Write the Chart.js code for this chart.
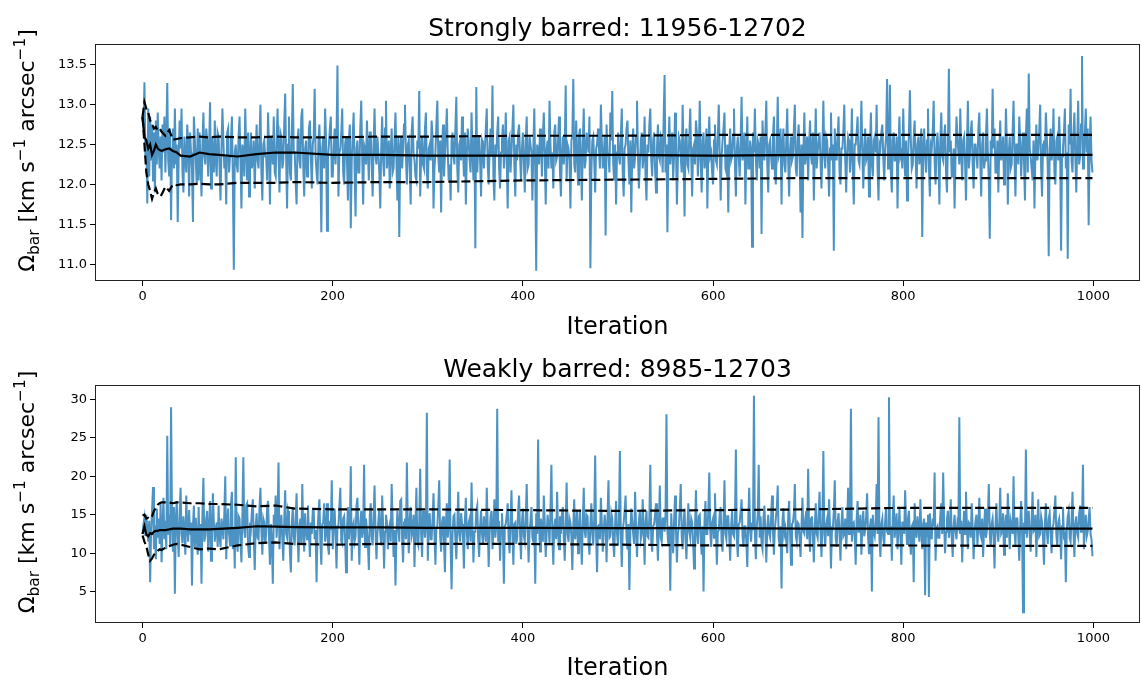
<!DOCTYPE html>
<html>
<head>
<meta charset="utf-8">
<script src="https://cdn.jsdelivr.net/npm/chart.js@4.4.1/dist/chart.umd.min.js"></script>
<style>
  html, body { margin: 0; padding: 0; background: #fff; }
  canvas { position: absolute; left: 0; }
  #strong { top: 0; }
  #weak { top: 341px; }
</style>
</head>
<body>
<canvas id="strong" width="1141" height="341"></canvas>
<canvas id="weak" width="1141" height="341"></canvas>
<script>
//===================================== Data (one value per iteration)
var xTicks = [0, 200, 400, 600, 800, 1000];

var strongTitle = 'Strongly barred: 11956-12702';
var strongYTicks = [11.0, 11.5, 12.0, 12.5, 13.0, 13.5];
var strongTrace = [
  12.85, 12.70, 13.28, 12.35, 12.55, 11.76, 12.95, 12.10, 12.85, 12.30, 12.75, 12.05, 12.65, 11.90, 12.80, 12.25, 12.90, 12.45, 12.20, 12.60,
  12.05, 12.75, 12.40, 12.85, 12.15, 12.60, 13.27, 12.30, 12.10, 12.70, 11.55, 12.45, 12.70, 12.20, 12.95, 12.25, 12.50, 11.53, 12.35, 12.80,
  12.45, 12.95, 12.15, 11.90, 12.60, 12.35, 12.15, 12.75, 12.50, 11.85, 12.65, 12.40, 12.20, 11.53, 12.85, 12.55, 12.30, 12.00, 12.70, 12.05,
  12.65, 12.25, 11.85, 12.50, 12.90, 12.35, 12.25, 12.70, 12.55, 12.10, 12.45, 13.03, 11.95, 12.60, 12.40, 12.15, 12.80, 12.30, 12.10, 12.65,
  12.60, 12.20, 11.80, 12.45, 12.95, 12.55, 12.20, 12.35, 11.75, 12.65, 12.70, 12.15, 12.35, 12.55, 12.85, 12.05, 10.93, 12.40, 12.50, 12.25,
  12.15, 12.60, 12.85, 12.30, 11.70, 12.50, 12.40, 12.10, 12.95, 12.45, 12.05, 12.65, 11.85, 12.35, 12.65, 12.20, 12.30, 12.55, 11.95, 12.40,
  12.75, 12.30, 12.20, 12.60, 13.00, 12.15, 11.80, 12.50, 12.55, 12.35, 12.35, 12.05, 12.90, 12.45, 11.75, 12.60, 12.45, 12.25, 12.85, 12.15,
  12.10, 12.55, 12.95, 12.40, 11.90, 12.65, 12.60, 12.20, 12.30, 12.75, 13.14, 12.35, 11.70, 12.50, 12.85, 12.15, 12.05, 12.60, 13.26, 12.40,
  12.40, 12.05, 11.75, 12.55, 12.70, 12.30, 12.20, 12.85, 12.95, 12.25, 11.85, 12.45, 12.55, 12.10, 12.15, 12.70, 12.80, 12.35, 11.95, 12.50,
  12.60, 13.20, 12.35, 12.15, 12.00, 12.55, 12.75, 12.30, 11.40, 12.45, 12.60, 12.20, 12.95, 12.55, 11.42, 12.35, 12.50, 12.70, 12.85, 12.10,
  12.10, 12.45, 12.70, 12.25, 12.60, 13.49, 11.85, 12.40, 12.45, 12.65, 12.95, 12.15, 12.00, 12.50, 12.60, 12.30, 11.80, 12.55, 12.75, 11.45,
  12.30, 12.60, 12.90, 12.20, 11.60, 12.45, 12.55, 12.15, 12.15, 12.70, 13.05, 12.35, 11.75, 12.50, 12.45, 12.25, 12.80, 12.40, 12.05, 12.65,
  12.65, 12.25, 11.85, 12.50, 12.95, 12.35, 12.25, 12.60, 12.40, 12.15, 11.70, 12.45, 12.85, 12.30, 12.10, 12.70, 13.05, 12.20, 12.35, 12.55,
  11.95, 12.40, 12.70, 12.15, 12.20, 12.55, 12.90, 12.30, 11.80, 12.60, 11.34, 12.45, 12.60, 12.20, 12.45, 12.75, 13.00, 12.35, 12.00, 12.50,
  12.55, 12.20, 11.75, 12.65, 12.85, 12.40, 12.30, 12.10, 12.05, 12.55, 12.45, 13.17, 11.85, 12.35, 12.60, 12.25, 12.20, 12.70, 12.90, 12.15,
  11.95, 12.45, 12.50, 12.30, 12.80, 12.60, 11.70, 12.20, 12.40, 12.75, 13.05, 12.35, 12.15, 12.55, 11.65, 12.45, 12.75, 12.10, 12.35, 12.60,
  12.95, 12.40, 12.05, 12.25, 11.80, 12.55, 12.65, 12.35, 12.25, 12.70, 13.10, 12.20, 11.90, 12.50, 12.55, 12.30, 12.85, 12.45, 12.10, 12.65,
  11.75, 12.35, 12.70, 12.55, 12.30, 12.15, 12.90, 12.40, 12.05, 12.60, 11.20, 13.22, 12.15, 12.45, 12.60, 12.30, 11.85, 12.55, 12.50, 12.20,
  12.45, 12.70, 12.95, 12.25, 12.00, 12.45, 12.70, 12.35, 13.24, 12.10, 11.80, 12.50, 12.35, 12.65, 12.85, 12.20, 11.95, 12.40, 12.55, 12.75,
  12.20, 12.45, 12.90, 12.30, 11.70, 12.55, 12.60, 12.15, 12.40, 12.70, 13.00, 12.25, 11.85, 12.50, 12.30, 12.65, 12.75, 12.35, 12.05, 12.45,
  12.65, 12.30, 11.90, 12.55, 12.85, 12.20, 12.25, 12.60, 12.50, 12.40, 11.80, 12.45, 12.95, 12.15, 10.92, 12.50, 12.40, 12.25, 12.70, 12.55,
  12.10, 12.60, 12.90, 12.35, 11.75, 12.45, 12.55, 12.20, 13.05, 12.50, 12.20, 12.40, 11.95, 12.65, 12.75, 12.30, 12.35, 12.55, 12.85, 12.15,
  11.85, 12.40, 12.60, 12.25, 12.45, 13.24, 12.05, 12.50, 12.45, 12.30, 11.70, 12.55, 12.60, 13.32, 12.25, 12.15, 12.80, 12.45, 12.00, 12.60,
  12.70, 12.35, 11.80, 12.50, 12.95, 12.20, 12.30, 12.65, 12.55, 12.40, 12.85, 10.95, 12.15, 12.55, 12.60, 12.30, 11.90, 12.45, 12.50, 12.70,
  12.45, 12.20, 13.00, 12.55, 12.20, 12.35, 12.60, 11.36, 12.75, 12.40, 12.35, 12.15, 12.90, 12.55, 13.17, 12.25, 12.05, 12.50, 11.75, 12.40,
  12.65, 12.35, 12.25, 12.60, 12.95, 12.15, 11.85, 12.45, 12.50, 12.70, 12.80, 12.30, 12.00, 12.55, 11.65, 12.40, 12.70, 12.20, 12.35, 12.60,
  13.05, 12.40, 11.95, 12.25, 12.55, 12.65, 12.20, 12.35, 12.85, 12.10, 11.80, 12.50, 12.40, 12.75, 12.95, 12.30, 12.10, 12.55, 12.65, 12.20,
  11.90, 12.45, 12.75, 12.35, 12.30, 12.60, 12.55, 12.15, 12.80, 13.37, 12.15, 12.50, 11.40, 12.40, 12.85, 12.25, 12.45, 12.65, 12.05, 12.35,
  12.90, 12.45, 11.75, 12.30, 12.60, 12.55, 12.35, 12.15, 13.00, 12.40, 11.60, 12.55, 12.70, 12.25, 12.20, 12.60, 12.95, 12.35, 11.85, 12.45,
  12.50, 12.25, 12.80, 12.65, 12.10, 12.40, 13.05, 12.30, 11.90, 12.55, 12.65, 12.20, 12.30, 12.70, 11.70, 12.45, 12.85, 12.35, 12.40, 12.15,
  12.00, 12.55, 12.75, 12.30, 12.25, 12.60, 13.00, 12.40, 11.80, 12.35, 12.55, 12.70, 12.90, 12.20, 12.15, 12.50, 11.65, 12.45, 12.70, 12.30,
  12.35, 12.60, 12.95, 12.25, 11.85, 12.45, 12.60, 12.35, 12.10, 12.55, 13.10, 12.30, 12.45, 12.65, 11.75, 12.40, 12.85, 12.20, 12.20, 12.55,
  12.45, 11.22, 12.65, 12.40, 12.95, 12.30, 12.05, 12.55, 12.50, 12.20, 12.60, 11.38, 12.80, 12.45, 12.30, 12.65, 13.05, 12.25, 11.90, 12.50,
  12.55, 12.35, 12.20, 12.60, 12.85, 12.15, 12.00, 12.45, 13.10, 12.35, 12.40, 12.70, 11.75, 12.50, 12.70, 12.25, 12.15, 12.55, 12.95, 12.30,
  11.85, 12.45, 12.60, 12.30, 12.35, 12.70, 13.00, 12.20, 12.10, 12.55, 12.75, 12.35, 11.65, 12.50, 11.33, 12.40, 12.90, 12.25, 12.45, 12.60,
  12.05, 12.50, 12.80, 12.35, 12.25, 12.65, 11.80, 12.40, 12.95, 12.20, 12.40, 12.55, 12.65, 12.30, 11.95, 12.45, 13.05, 12.35, 12.20, 12.60,
  12.55, 12.25, 11.85, 12.45, 12.90, 12.30, 12.50, 11.17, 12.70, 12.40, 12.30, 12.60, 12.85, 12.15, 12.00, 12.45, 12.45, 12.65, 13.00, 12.30,
  11.90, 12.40, 12.60, 12.55, 12.15, 12.35, 12.95, 12.20, 11.75, 12.50, 12.50, 12.65, 12.85, 12.30, 12.25, 12.55, 13.05, 12.40, 11.95, 12.45,
  12.70, 12.30, 12.35, 12.60, 11.85, 12.45, 12.90, 12.25, 12.10, 12.55, 12.60, 12.40, 13.00, 12.20, 11.80, 12.50, 12.45, 12.65, 12.75, 12.35,
  12.05, 12.45, 12.60, 13.32, 12.20, 12.40, 13.25, 12.15, 11.90, 12.55, 12.65, 12.30, 12.30, 12.60, 11.70, 12.45, 12.85, 12.35, 12.40, 12.20,
  12.95, 12.40, 12.10, 12.55, 11.80, 12.30, 12.65, 13.18, 12.55, 12.20, 12.25, 12.60, 12.80, 12.35, 11.95, 12.50, 12.60, 12.25, 12.45, 12.70,
  11.34, 12.45, 12.70, 12.35, 12.15, 12.55, 12.95, 12.20, 11.85, 12.50, 12.45, 12.65, 13.05, 12.30, 12.00, 12.45, 12.65, 12.40, 11.75, 12.55,
  12.90, 12.35, 12.30, 12.60, 12.75, 12.15, 11.90, 12.50, 13.45, 12.40, 12.55, 12.10, 12.10, 12.45, 11.70, 12.35, 12.85, 12.60, 12.40, 12.25,
  12.95, 12.40, 12.05, 12.55, 12.60, 12.30, 11.80, 12.45, 13.05, 12.20, 12.35, 12.65, 12.80, 12.25, 11.95, 12.50, 12.50, 12.35, 12.20, 12.70,
  12.90, 12.30, 11.85, 12.50, 12.65, 12.20, 12.30, 12.60, 12.95, 12.40, 12.05, 11.32, 12.55, 12.35, 13.20, 12.45, 12.70, 12.15, 12.15, 12.55,
  11.90, 12.45, 12.80, 12.30, 12.40, 12.60, 12.00, 12.25, 12.95, 12.50, 11.75, 12.40, 12.60, 12.20, 12.25, 12.65, 13.05, 12.35, 11.85, 12.50,
  12.50, 12.25, 12.85, 12.55, 12.10, 12.40, 12.65, 12.30, 11.80, 12.60, 12.95, 12.15, 13.39, 12.45, 12.35, 12.20, 12.05, 12.55, 11.70, 12.40,
  12.75, 12.30, 12.40, 12.65, 13.00, 12.20, 11.85, 12.50, 12.55, 12.35, 12.90, 12.60, 12.20, 11.10, 12.45, 12.70, 12.30, 12.40, 12.95, 12.15,
  12.00, 12.55, 12.60, 12.30, 12.85, 12.45, 11.17, 12.35, 12.45, 12.65, 12.95, 12.20, 12.40, 11.07, 12.75, 12.50, 13.20, 12.30, 12.15, 12.60,
  12.90, 12.35, 11.90, 12.55, 13.05, 12.25, 12.35, 12.75, 13.61, 12.20, 12.20, 12.65, 12.95, 12.40, 12.70, 11.49, 12.45, 12.85, 12.30, 12.15
];
// running mean and 16/84 percentile curves
var statIter = [0, 2, 4, 6, 8, 10, 12, 14, 16, 18, 20, 24, 28, 32, 36, 40, 50, 60, 70, 80,
  100, 120, 140, 160, 200, 250, 300, 400, 500, 600, 700, 800, 900, 999];
var strongMean = [12.85, 12.60, 12.55, 12.45, 12.50, 12.37, 12.42, 12.50, 12.45, 12.43,
  12.42, 12.44, 12.45, 12.42, 12.40, 12.36, 12.35, 12.40, 12.38, 12.37,
  12.35, 12.38, 12.40, 12.40, 12.37, 12.37, 12.36, 12.36, 12.37, 12.36, 12.37, 12.37, 12.37, 12.37];
var strongUpper = [12.85, 13.03, 12.95, 12.90, 12.80, 12.76, 12.70, 12.72, 12.68, 12.70,
  12.66, 12.61, 12.68, 12.56, 12.57, 12.58, 12.59, 12.60, 12.59, 12.60,
  12.59, 12.59, 12.60, 12.59, 12.59, 12.60, 12.60, 12.61, 12.61, 12.62, 12.62, 12.62, 12.62, 12.62];
var strongLower = [12.85, 12.50, 12.15, 12.00, 11.92, 11.82, 11.90, 11.95, 11.88, 11.85,
  11.87, 11.97, 11.92, 12.00, 11.99, 12.00, 12.00, 12.01, 12.00, 12.00,
  12.02, 12.02, 12.02, 12.03, 12.02, 12.03, 12.03, 12.05, 12.06, 12.07, 12.08, 12.08, 12.08, 12.08];

var weakTitle = 'Weakly barred: 8985-12703';
var weakYTicks = [5, 10, 15, 20, 25, 30];
var weakTrace = [
  12.5, 13.8, 14.6, 12.2, 15.0, 13.0, 11.5, 14.2, 6.2, 12.8, 15.5, 18.6, 10.5, 13.6, 9.2, 15.8, 12.0, 14.5, 11.2, 16.5,
  8.8, 13.5, 17.2, 11.8, 14.2, 10.5, 25.3, 12.4, 15.0, 11.0, 29.0, 13.8, 10.2, 16.0, 4.7, 14.5, 16.8, 12.2, 9.5, 15.2,
  18.5, 12.5, 11.3, 14.8, 13.0, 9.8, 17.5, 13.2, 11.5, 15.6, 12.4, 14.0, 5.8, 13.5, 16.2, 10.8, 14.6, 12.0, 9.8, 16.0,
  10.5, 13.8, 6.0, 15.2, 19.8, 11.5, 12.2, 14.5, 15.5, 10.2, 13.0, 16.8, 9.0, 12.8, 17.8, 14.0, 11.5, 13.2, 14.0, 10.8,
  16.2, 12.0, 10.8, 14.5, 13.5, 11.8, 15.2, 20.0, 9.2, 13.8, 15.8, 12.5, 11.0, 16.5, 18.0, 10.5, 13.2, 8.0, 22.5, 12.0,
  10.2, 14.8, 14.5, 11.5, 8.8, 15.0, 22.5, 12.8, 12.0, 16.2, 16.5, 11.0, 9.5, 14.0, 13.2, 15.5, 17.0, 11.8, 7.8, 13.5,
  15.2, 12.0, 11.8, 16.0, 18.5, 13.0, 9.8, 14.5, 14.0, 11.2, 12.5, 15.8, 16.8, 12.2, 8.5, 13.8, 11.5, 6.0, 15.0, 13.5,
  17.5, 12.0, 14.5, 21.8, 10.5, 13.5, 15.0, 11.8, 9.0, 14.2, 18.2, 12.5, 12.0, 15.5, 14.8, 10.0, 7.5, 13.8, 16.0, 12.2,
  11.0, 14.5, 17.8, 12.8, 8.8, 13.5, 14.5, 11.2, 19.0, 13.0, 10.2, 15.2, 13.0, 11.8, 16.2, 12.5, 9.5, 14.0, 12.5, 15.5,
  15.5, 11.8, 13.0, 6.2, 12.8, 15.2, 17.0, 11.5, 8.5, 13.8, 14.0, 16.5, 11.5, 12.8, 16.5, 10.8, 9.8, 14.2, 13.0, 19.5,
  10.5, 14.0, 15.8, 12.2, 8.0, 13.5, 13.5, 16.0, 18.5, 11.5, 11.2, 14.5, 14.8, 12.0, 7.5, 13.2, 16.0, 11.8, 13.5, 21.3,
  9.0, 13.5, 14.0, 11.5, 12.2, 16.2, 17.2, 12.8, 8.5, 14.0, 15.5, 12.0, 13.0, 21.5, 10.8, 14.5, 13.0, 11.2, 7.8, 15.0,
  16.5, 12.2, 11.0, 14.8, 18.8, 13.0, 9.2, 12.5, 14.2, 15.8, 12.5, 11.0, 17.5, 13.8, 8.0, 12.8, 15.0, 14.0, 10.5, 13.2,
  13.8, 11.5, 19.0, 14.2, 9.5, 13.0, 5.8, 12.5, 15.5, 13.5, 11.5, 16.8, 17.0, 12.0, 8.8, 14.0, 14.5, 11.8, 21.8, 13.5,
  10.0, 14.5, 16.0, 12.2, 12.8, 15.0, 8.2, 13.5, 18.5, 11.5, 11.0, 14.2, 21.0, 12.5, 9.5, 15.5, 14.2, 12.0, 13.5, 28.3,
  9.0, 13.8, 15.2, 11.8, 11.8, 14.5, 17.8, 12.5, 8.5, 13.2, 13.5, 16.0, 19.5, 12.2, 10.2, 14.0, 14.8, 11.5, 7.5, 13.8,
  16.5, 12.0, 13.5, 22.2, 11.0, 5.3, 12.5, 14.8, 15.0, 11.8, 9.2, 13.5, 18.0, 12.5, 11.5, 15.2, 13.8, 12.0, 8.0, 14.2,
  17.2, 12.8, 10.5, 14.0, 14.5, 11.5, 19.2, 13.2, 8.8, 12.8, 12.8, 15.5, 16.2, 11.8, 9.5, 13.5, 15.5, 12.5, 11.2, 14.8,
  13.0, 11.5, 18.5, 13.8, 8.2, 12.5, 14.8, 15.5, 10.5, 13.2, 17.0, 12.0, 13.5, 28.8, 11.5, 14.2, 9.0, 13.0, 15.2, 12.5,
  6.0, 13.5, 13.8, 15.0, 16.5, 11.8, 10.0, 14.2, 18.2, 12.5, 8.5, 13.8, 14.0, 11.2, 12.0, 15.5, 17.5, 12.8, 9.2, 14.0,
  15.8, 12.2, 11.5, 14.5, 19.0, 13.0, 8.8, 12.8, 14.2, 16.0, 12.0, 11.5, 13.5, 6.0, 15.2, 12.5, 24.8, 13.8, 10.2, 14.5,
  13.0, 11.5, 17.5, 14.0, 9.5, 12.8, 15.0, 13.5, 11.2, 15.8, 21.5, 12.2, 8.5, 13.5, 14.5, 11.8, 18.0, 13.0, 10.5, 14.8,
  12.5, 15.0, 16.0, 12.0, 9.0, 13.8, 19.2, 12.5, 11.5, 14.5, 14.0, 12.2, 7.8, 13.5, 17.0, 11.8, 13.2, 15.5, 10.0, 13.0,
  15.5, 12.0, 8.5, 14.2, 18.5, 12.8, 12.0, 15.0, 14.8, 11.5, 9.8, 13.8, 16.5, 12.5, 11.0, 14.5, 22.7, 12.2, 7.5, 13.5,
  13.8, 11.8, 17.2, 14.0, 10.2, 12.8, 15.0, 13.5, 8.8, 14.8, 19.5, 12.0, 12.2, 15.2, 14.5, 11.5, 9.5, 13.8, 16.8, 12.5,
  11.0, 14.2, 23.3, 12.5, 8.2, 13.0, 14.0, 15.5, 17.5, 12.0, 10.5, 13.8, 5.2, 12.8, 15.8, 14.2, 12.5, 11.2, 18.0, 13.5,
  9.5, 13.0, 14.2, 15.5, 11.8, 12.5, 17.0, 13.2, 8.5, 14.0, 15.5, 12.2, 12.0, 14.8, 21.5, 11.5, 10.2, 13.5, 13.8, 15.0,
  16.5, 12.5, 9.0, 13.8, 18.8, 12.0, 11.5, 14.5, 14.5, 12.8, 15.0, 28.1, 12.8, 11.0, 13.5, 5.1, 15.2, 12.5, 10.0, 14.2,
  17.5, 13.0, 8.8, 12.5, 13.5, 15.8, 19.0, 12.2, 10.5, 14.0, 15.8, 11.8, 9.2, 13.5, 16.5, 12.8, 12.0, 14.5, 14.0, 11.5,
  8.0, 13.2, 18.2, 12.5, 11.2, 14.8, 15.0, 12.0, 9.8, 13.5, 5.0, 14.2, 16.8, 12.5, 12.5, 15.5, 20.5, 13.0, 10.8, 14.0,
  14.5, 12.0, 17.8, 13.5, 8.5, 12.8, 13.0, 15.2, 16.0, 11.5, 10.2, 14.0, 19.5, 12.5, 11.8, 14.8, 14.8, 12.2, 9.0, 13.5,
  15.5, 12.5, 12.2, 14.0, 23.5, 11.8, 9.5, 13.8, 14.0, 15.5, 17.0, 12.2, 10.8, 13.5, 13.5, 11.5, 8.2, 14.2, 18.5, 12.8,
  11.5, 14.0, 13.0, 30.5, 12.5, 9.2, 13.5, 15.0, 21.5, 12.0, 14.8, 11.2, 10.5, 14.5, 16.2, 12.8, 8.8, 13.2, 15.0, 12.5,
  12.0, 14.5, 17.5, 12.8, 9.8, 13.2, 14.5, 15.8, 18.8, 12.0, 11.0, 13.5, 5.4, 14.2, 15.8, 12.5, 13.2, 11.5, 10.0, 14.8,
  16.8, 12.5, 8.5, 13.8, 14.0, 15.2, 19.0, 12.2, 11.5, 14.0, 13.8, 12.0, 9.5, 13.5, 17.2, 12.8, 12.5, 14.5, 15.5, 11.8,
  21.0, 13.0, 10.2, 14.5, 14.8, 12.2, 8.8, 13.5, 16.5, 12.5, 12.0, 15.0, 18.0, 12.8, 9.5, 14.0, 23.3, 12.5, 11.0, 13.8,
  14.5, 12.2, 17.0, 13.5, 8.0, 12.8, 13.2, 15.5, 19.5, 12.0, 10.8, 14.2, 15.2, 12.5, 9.0, 13.8, 16.0, 12.2, 12.5, 14.5,
  10.5, 13.2, 18.5, 12.5, 14.0, 28.8, 11.5, 13.8, 14.0, 12.0, 8.5, 14.5, 16.8, 12.8, 12.8, 15.0, 9.8, 13.5, 15.5, 12.2,
  13.0, 14.8, 17.8, 12.2, 10.0, 13.5, 14.5, 5.0, 15.0, 12.8, 12.2, 14.0, 19.0, 12.5, 27.7, 11.8, 9.5, 13.8, 14.5, 12.0,
  11.0, 14.2, 16.0, 12.8, 12.5, 30.3, 12.5, 13.5, 9.0, 14.8, 17.5, 12.0, 13.5, 15.2, 10.5, 13.0, 15.8, 12.5, 8.5, 14.0,
  14.0, 12.5, 18.2, 13.8, 11.2, 14.5, 15.5, 12.2, 9.8, 13.5, 13.8, 6.2, 16.5, 12.8, 12.0, 14.8, 13.2, 11.5, 17.0, 13.0,
  10.5, 13.8, 14.5, 4.5, 14.0, 12.2, 15.0, 4.3, 15.2, 12.8, 11.8, 14.5, 13.5, 20.5, 9.0, 13.2, 13.5, 12.0, 12.0, 15.0,
  16.5, 12.5, 20.5, 13.8, 10.0, 12.8, 14.5, 15.5, 12.0, 13.2, 17.0, 12.0, 9.5, 13.5, 15.0, 12.8, 11.8, 14.0, 13.5, 27.7,
  12.5, 14.2, 8.8, 13.0, 15.5, 12.5, 18.0, 13.2, 10.5, 14.0, 13.8, 12.0, 16.5, 13.5, 9.2, 12.8, 14.2, 15.0, 11.0, 13.5,
  17.2, 12.5, 12.0, 14.5, 9.5, 13.2, 15.8, 12.0, 13.0, 14.8, 19.0, 12.5, 10.8, 13.8, 14.5, 12.2, 8.0, 13.5, 16.5, 12.8,
  11.5, 14.0, 18.5, 12.5, 12.8, 15.2, 9.8, 13.5, 15.0, 12.0, 17.8, 13.8, 10.5, 14.2, 13.5, 12.5, 20.0, 13.0, 11.0, 14.5,
  14.5, 12.2, 9.0, 13.5, 16.8, 12.8, 2.3, 14.0, 12.5, 23.5, 12.0, 13.8, 15.5, 12.5, 10.2, 14.2, 18.0, 12.8, 13.0, 15.0,
  9.5, 13.5, 17.0, 12.2, 12.5, 14.8, 14.0, 12.0, 8.5, 13.8, 16.5, 12.8, 11.2, 14.5, 15.2, 12.5, 10.0, 13.2, 13.8, 15.5,
  17.5, 12.5, 10.8, 14.0, 14.5, 12.8, 9.2, 13.5, 16.0, 12.2, 12.5, 6.2, 13.0, 14.8, 15.5, 12.0, 11.5, 14.2, 18.0, 13.0,
  9.5, 13.8, 14.8, 12.5, 12.0, 15.2, 16.2, 12.8, 13.5, 21.5, 10.5, 13.5, 15.0, 12.2, 12.8, 14.5, 16.0, 12.5, 11.8, 9.6
];
var weakMean = [12.5, 13.5, 12.4, 12.2, 12.6, 12.5, 12.8, 12.9, 12.9, 13.0,
  13.0, 13.0, 13.1, 13.2, 13.2, 13.2, 13.1, 13.1, 13.1, 13.15,
  13.3, 13.5, 13.45, 13.4, 13.35, 13.35, 13.3, 13.3, 13.25, 13.25, 13.2, 13.2, 13.2, 13.2];
var weakUpper = [14.9, 15.0, 14.5, 14.6, 14.5, 14.8, 15.5, 15.9, 16.3, 16.5,
  16.6, 16.6, 16.6, 16.5, 16.6, 16.6, 16.5, 16.5, 16.4, 16.4,
  16.3, 16.1, 16.2, 15.8, 15.7, 15.7, 15.7, 15.6, 15.5, 15.6, 15.7, 15.9, 15.9, 15.9];
var weakLower = [12.3, 11.5, 10.9, 9.8, 9.0, 9.3, 9.8, 10.0, 10.3, 10.5,
  10.4, 10.7, 10.9, 11.1, 11.2, 11.1, 10.8, 10.5, 10.6, 10.5,
  11.0, 11.3, 11.4, 11.2, 11.1, 11.2, 11.2, 11.2, 11.1, 11.0, 11.0, 11.0, 10.95, 10.95];

//===================================== Helpers
var FONT = '"DejaVu Sans", sans-serif';

function toPoints(xs, ys) {
  return ys.map(function (y, i) { return { x: xs[i], y: y }; });
}

// one point per iteration, starting at 0
function tracePoints(ys) {
  return ys.map(function (y, i) { return { x: i, y: y }; });
}

// draws "Ω_bar [km s^-1 arcsec^-1]" rotated, like matplotlib mathtext
function drawYLabel(ctx, baseX, centerY, size) {
  var parts = [
    { t: '\u03A9', s: 1, dy: 0 },
    { t: 'bar', s: 0.7, dy: 0.22 },
    { t: ' [km s', s: 1, dy: 0 },
    { t: '\u22121', s: 0.7, dy: -0.42 },
    { t: ' arcsec', s: 1, dy: 0 },
    { t: '\u22121', s: 0.7, dy: -0.42 },
    { t: ']', s: 1, dy: 0 }
  ];
  var total = 0;
  parts.forEach(function (p) {
    ctx.font = (size * p.s) + 'px ' + FONT;
    p.w = ctx.measureText(p.t).width;
    total += p.w;
  });
  ctx.save();
  ctx.translate(baseX, centerY);
  ctx.rotate(-Math.PI / 2);
  ctx.textAlign = 'left';
  ctx.textBaseline = 'alphabetic';
  ctx.fillStyle = '#000';
  var x = -total / 2;
  parts.forEach(function (p) {
    ctx.font = (size * p.s) + 'px ' + FONT;
    ctx.fillText(p.t, x, p.dy * size);
    x += p.w;
  });
  ctx.restore();
}

var mplTextPlugin = {
  id: 'mplText',
  afterDraw: function (chart, args, opts) {
    var ctx = chart.ctx;
    var a = chart.chartArea;
    ctx.save();
    // full frame (all four spines)
    ctx.strokeStyle = '#222';
    ctx.lineWidth = 1;
    ctx.strokeRect(a.left + 0.5, a.top + 0.5, a.right - a.left - 1, a.bottom - a.top - 1);

    var cx = (a.left + a.right) / 2;
    ctx.fillStyle = '#000';
    ctx.textAlign = 'center';
    ctx.textBaseline = 'alphabetic';
    ctx.font = '25px ' + FONT;
    ctx.fillText(opts.title, cx, 36);
    ctx.font = '24px ' + FONT;
    ctx.fillText('Iteration', cx, 334);
    ctx.restore();

    drawYLabel(ctx, 34, (a.top + a.bottom) / 2 - 12, 22);
  }
};

function buildTraceChart(el, cfg) {
  return new Chart(el, {
    type: 'line',
    data: {
      datasets: [
        { data: toPoints(statIter, cfg.mean), borderColor: '#000', borderWidth: 2.2, order: 0 },
        { data: toPoints(statIter, cfg.upper), borderColor: '#000', borderWidth: 2.2, borderDash: [9, 4], order: 0 },
        { data: toPoints(statIter, cfg.lower), borderColor: '#000', borderWidth: 2.2, borderDash: [9, 4], order: 0 },
        { data: tracePoints(cfg.trace), borderColor: 'rgba(31,119,180,0.8)', borderWidth: 2, order: 1 }
      ]
    },
    options: {
      responsive: false,
      animation: false,
      devicePixelRatio: 1,
      layout: { padding: { left: 0, right: 1, top: 44, bottom: 0 } },
      elements: {
        point: { radius: 0 },
        line: { tension: 0, fill: false }
      },
      plugins: {
        legend: { display: false },
        tooltip: { enabled: false },
        mplText: { title: cfg.title }
      },
      scales: {
        x: {
          type: 'linear',
          min: -50,
          max: 1049,
          afterFit: function (s) { s.height = cfg.bottomSpace; },
          afterBuildTicks: function (s) { s.ticks = xTicks.map(function (v) { return { value: v }; }); },
          grid: { drawOnChartArea: false, tickLength: 5, tickColor: '#000', lineWidth: 1 },
          border: { display: false },
          ticks: {
            color: '#000', padding: 3, maxRotation: 0, font: { family: FONT, size: 13 },
            callback: function (v) { return String(v); }
          }
        },
        y: {
          type: 'linear',
          min: cfg.yMin,
          max: cfg.yMax,
          afterFit: function (s) { s.width = 95; },
          afterBuildTicks: function (s) { s.ticks = cfg.yTicks.map(function (v) { return { value: v }; }); },
          grid: { drawOnChartArea: false, tickLength: 5, tickColor: '#000', lineWidth: 1 },
          border: { display: false },
          ticks: {
            color: '#000', padding: 3, font: { family: FONT, size: 13 },
            callback: function (v) { return cfg.decimals ? Number(v).toFixed(cfg.decimals) : String(v); }
          }
        }
      }
    },
    plugins: [mplTextPlugin]
  });
}

buildTraceChart(document.getElementById('strong'), {
  title: strongTitle, trace: strongTrace, mean: strongMean, upper: strongUpper, lower: strongLower,
  yTicks: strongYTicks, yMin: 10.79, yMax: 13.76, decimals: 1, bottomSpace: 60
});

buildTraceChart(document.getElementById('weak'), {
  title: weakTitle, trace: weakTrace, mean: weakMean, upper: weakUpper, lower: weakLower,
  yTicks: weakYTicks, yMin: 0.9, yMax: 31.9, decimals: 0, bottomSpace: 59
});
</script>
</body>
</html>
